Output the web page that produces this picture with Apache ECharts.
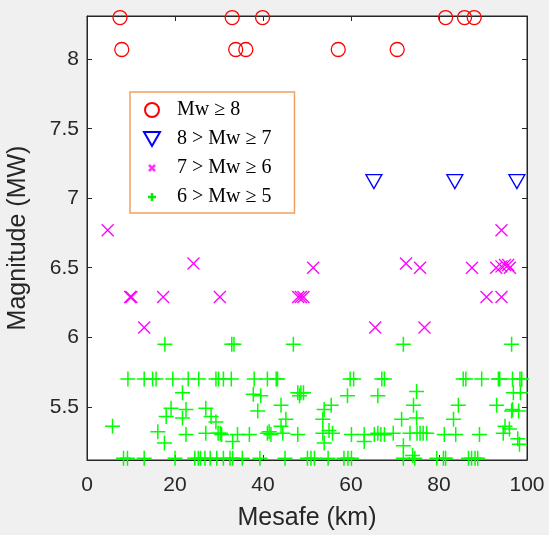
<!DOCTYPE html>
<html>
<head>
<meta charset="utf-8">
<script src="https://cdn.jsdelivr.net/npm/echarts@6/dist/echarts.min.js"></script>
<style>
  html, body { margin: 0; padding: 0; background: #f0f0f0; }
  #main { width: 549px; height: 535px; }
</style>
</head>
<body>
<div id="main"></div>
<script>
// Mw >= 8
var mw8Dist = [7.5, 33.0, 39.9, 81.5, 85.8, 88.0, 7.9, 33.8, 36.1, 57.1, 70.5];
var mw8Mag = [8.3, 8.3, 8.3, 8.3, 8.3, 8.3, 8.07, 8.07, 8.07, 8.07, 8.07];

// 8 > Mw >= 7
var mw7Dist = [65.2, 83.6, 97.7];
var mw7Mag = [7.12, 7.12, 7.12];

// 7 > Mw >= 6
var mw6Dist = [4.7, 24.2, 51.4, 72.5, 75.7, 87.5, 93.0, 94.2, 95.0, 95.7, 96.1, 94.2,
  9.8, 10.1, 17.3, 30.2, 48.0, 48.6, 49.2, 90.8, 94.2, 13.0, 65.5, 76.7];
var mw6Mag = [6.77, 6.53, 6.50, 6.53, 6.50, 6.50, 6.50, 6.51, 6.52, 6.52, 6.50, 6.77,
  6.29, 6.29, 6.29, 6.29, 6.29, 6.29, 6.29, 6.29, 6.29, 6.07, 6.07, 6.07];

// 6 > Mw >= 5
var mw5Dist = [
  17.7, 32.9, 33.4, 46.9, 71.9, 96.5,
  9.3, 13.0, 14.9, 15.7, 19.5, 23.0, 25.4, 29.3, 29.9, 31.0, 32.8, 38.0, 41.0, 43.0,
  43.3, 59.8, 60.6, 67.0, 67.6, 85.5, 86.1, 89.7, 93.5, 93.8, 96.7, 98.4, 98.8,
  5.8, 21.7, 19.1, 22.5, 18.0, 21.7, 16.1, 22.5, 17.6,
  27.0, 28.2, 29.3, 27.0, 29.8, 30.3, 30.6, 33.1,
  34.2, 36.9, 41.0, 41.4, 41.8, 44.5, 47.9,
  39.5, 37.8, 38.8, 44.1, 45.2, 44.1,
  47.9, 48.6, 48.3, 49.2,
  55.5, 53.9, 53.6, 59.2, 66.1,
  53.6, 55.0, 55.8, 53.9, 60.1, 63.0, 63.0,
  65.3, 66.1, 66.8, 67.6,
  74.9, 74.2, 84.4, 93.1, 96.9, 98.5, 96.5, 96.7, 98.1,
  71.5, 74.9, 83.3,
  69.6, 73.4, 75.0, 75.7, 76.4, 77.2, 81.2, 83.8, 89.2, 94.6,
  71.9, 95.0, 96.0, 97.9, 98.3, 74.0,
  8.3, 9.2, 13.0, 20.0, 24.5, 25.3, 25.8, 26.8, 28.0, 29.5, 31.0, 32.5, 33.1, 35.3,
  39.3, 45.0, 50.1, 50.9, 51.7, 54.8, 58.4, 59.3, 60.1, 71.9, 74.5, 79.5, 81.0, 81.5,
  86.7, 87.4, 88.2, 88.8
];
var mw5Mag = [
  5.95, 5.95, 5.95, 5.95, 5.95, 5.95,
  5.7, 5.7, 5.7, 5.7, 5.7, 5.7, 5.7, 5.7, 5.7, 5.7, 5.7, 5.7, 5.7, 5.7,
  5.7, 5.7, 5.7, 5.7, 5.7, 5.7, 5.7, 5.7, 5.7, 5.7, 5.7, 5.7, 5.7,
  5.36, 5.60, 5.49, 5.48, 5.43, 5.42, 5.32, 5.30, 5.24,
  5.49, 5.43, 5.39, 5.31, 5.31, 5.31, 5.30, 5.25,
  5.30, 5.30, 5.31, 5.32, 5.30, 5.31, 5.30,
  5.58, 5.59, 5.47, 5.51, 5.41, 5.36,
  5.60, 5.60, 5.58, 5.60,
  5.51, 5.48, 5.41, 5.58, 5.58,
  5.31, 5.33, 5.31, 5.24, 5.30, 5.30, 5.25,
  5.30, 5.31, 5.30, 5.30,
  5.61, 5.51, 5.51, 5.51, 5.60, 5.60, 5.47, 5.48, 5.47,
  5.41, 5.42, 5.41,
  5.31, 5.31, 5.31, 5.31, 5.31, 5.31, 5.30, 5.30, 5.30, 5.31,
  5.22, 5.36, 5.34, 5.27, 5.23, 5.15,
  5.13, 5.13, 5.13, 5.13, 5.13, 5.13, 5.13, 5.13, 5.13, 5.13, 5.13, 5.13, 5.13, 5.13,
  5.13, 5.13, 5.13, 5.13, 5.13, 5.13, 5.13, 5.13, 5.13, 5.13, 5.13, 5.13, 5.13, 5.13,
  5.13, 5.13, 5.13, 5.13
];

var seriesNames = ['Mw \u2265 8', '8 > Mw \u2265 7', '7 > Mw \u2265 6', '6 > Mw \u2265 5'];
var xTicks = [0, 100, 20];
var yRange = [5.117, 8.311];

function zip(xs, ys) {
  return xs.map(function (x, i) { return [x, ys[i]]; });
}

var axisColor = '#262626';
var labelFont = 'Liberation Sans';

var chartDom = document.getElementById('main');
var myChart = echarts.init(chartDom, null, { renderer: 'canvas' });
var option = {
  backgroundColor: '#f0f0f0',
  animation: false,
  grid: {
    left: 87, right: 22, top: 16, bottom: 75,
    show: true, backgroundColor: '#ffffff', borderColor: axisColor, borderWidth: 1,
    outerBoundsMode: 'none'
  },
  legend: {
    orient: 'vertical',
    left: 130, top: 92,
    itemWidth: 40, itemHeight: 14, itemGap: 9,
    padding: [8, 23, 6, 13],
    backgroundColor: '#ffffff',
    borderColor: '#f2a05e', borderWidth: 1.5, borderRadius: 0,
    selectedMode: false,
    textStyle: { fontFamily: 'Liberation Serif', fontSize: 20, color: '#000' },
    data: [
      { name: seriesNames[0], icon: 'circle',
        itemStyle: { color: 'rgba(0,0,0,0)', borderColor: '#ff0000', borderWidth: 2 } },
      { name: seriesNames[1], icon: 'path://M0,0 L16,0 L8,14 Z',
        itemStyle: { color: 'rgba(0,0,0,0)', borderColor: '#0000ff', borderWidth: 2 } },
      { name: seriesNames[2], icon: 'path://M0,0 M14,14 M4,4 L10,10 M10,4 L4,10',
        itemStyle: { color: 'rgba(0,0,0,0)', borderColor: '#ff33ff', borderWidth: 2.5 } },
      { name: seriesNames[3], icon: 'path://M0,0 M14,14 M7,3 L7,11 M3,7 L11,7',
        itemStyle: { color: 'rgba(0,0,0,0)', borderColor: '#00ee00', borderWidth: 2.5 } }
    ]
  },
  xAxis: [{
    type: 'value', position: 'bottom',
    min: xTicks[0], max: xTicks[1], interval: xTicks[2],
    name: 'Mesafe (km)', nameLocation: 'middle', nameGap: 46,
    nameTextStyle: { fontFamily: labelFont, fontSize: 25, color: axisColor },
    axisLine: { show: true, onZero: false, lineStyle: { color: axisColor, width: 1 } },
    axisTick: { show: true, inside: true, length: 5, lineStyle: { color: axisColor } },
    axisLabel: { fontFamily: labelFont, fontSize: 21, color: axisColor, margin: 15 },
    splitLine: { show: false }
  }, {
    type: 'value', position: 'top',
    min: xTicks[0], max: xTicks[1], interval: xTicks[2],
    axisLine: { show: true, onZero: false, lineStyle: { color: axisColor, width: 1 } },
    axisTick: { show: true, inside: true, length: 5, lineStyle: { color: axisColor } },
    axisLabel: { show: false },
    splitLine: { show: false }
  }],
  yAxis: [{
    type: 'value', position: 'left',
    min: yRange[0], max: yRange[1],
    name: 'Magnitude (MW)', nameLocation: 'middle', nameGap: 56,
    nameTextStyle: { fontFamily: labelFont, fontSize: 25, color: axisColor },
    axisLine: { show: true, onZero: false, lineStyle: { color: axisColor, width: 1 } },
    axisTick: { show: true, inside: true, length: 5, lineStyle: { color: axisColor } },
    axisLabel: {
      fontFamily: labelFont, fontSize: 21, color: axisColor, margin: 8,
      showMinLabel: false, showMaxLabel: false,
      formatter: function (v) {
        return Math.abs(v * 2 - Math.round(v * 2)) < 1e-6 ? String(+v.toFixed(1)) : '';
      }
    },
    splitLine: { show: false }
  }, {
    type: 'value', position: 'right',
    min: yRange[0], max: yRange[1],
    axisLine: { show: true, onZero: false, lineStyle: { color: axisColor, width: 1 } },
    axisTick: { show: true, inside: true, length: 5, lineStyle: { color: axisColor } },
    axisLabel: { show: false },
    splitLine: { show: false }
  }],
  series: [{
    name: seriesNames[0], type: 'scatter',
    data: zip(mw8Dist, mw8Mag),
    symbol: 'circle', symbolSize: 14,
    itemStyle: { color: 'rgba(0,0,0,0)', borderColor: '#ff0000', borderWidth: 1.3, opacity: 1 },
    emphasis: { disabled: true }, clip: false
  }, {
    name: seriesNames[1], type: 'scatter',
    data: zip(mw7Dist, mw7Mag),
    symbol: 'path://M0,0 L16,0 L8,14 Z', symbolSize: [16, 14],
    itemStyle: { color: 'rgba(0,0,0,0)', borderColor: '#0000ff', borderWidth: 1.3, opacity: 1 },
    emphasis: { disabled: true }, clip: false
  }, {
    name: seriesNames[2], type: 'scatter',
    data: zip(mw6Dist, mw6Mag),
    symbol: 'path://M0,0 L10,10 M10,0 L0,10', symbolSize: 12,
    itemStyle: { color: 'rgba(0,0,0,0)', borderColor: '#ff00ff', borderWidth: 1.3, opacity: 1 },
    emphasis: { disabled: true }, clip: false
  }, {
    name: seriesNames[3], type: 'scatter',
    data: zip(mw5Dist, mw5Mag),
    symbol: 'path://M5,0 L5,10 M0,5 L10,5', symbolSize: 15,
    itemStyle: { color: 'rgba(0,0,0,0)', borderColor: '#00ff00', borderWidth: 1.5, opacity: 1 },
    emphasis: { disabled: true }, clip: false
  }]
};
myChart.setOption(option);
</script>
</body>
</html>
